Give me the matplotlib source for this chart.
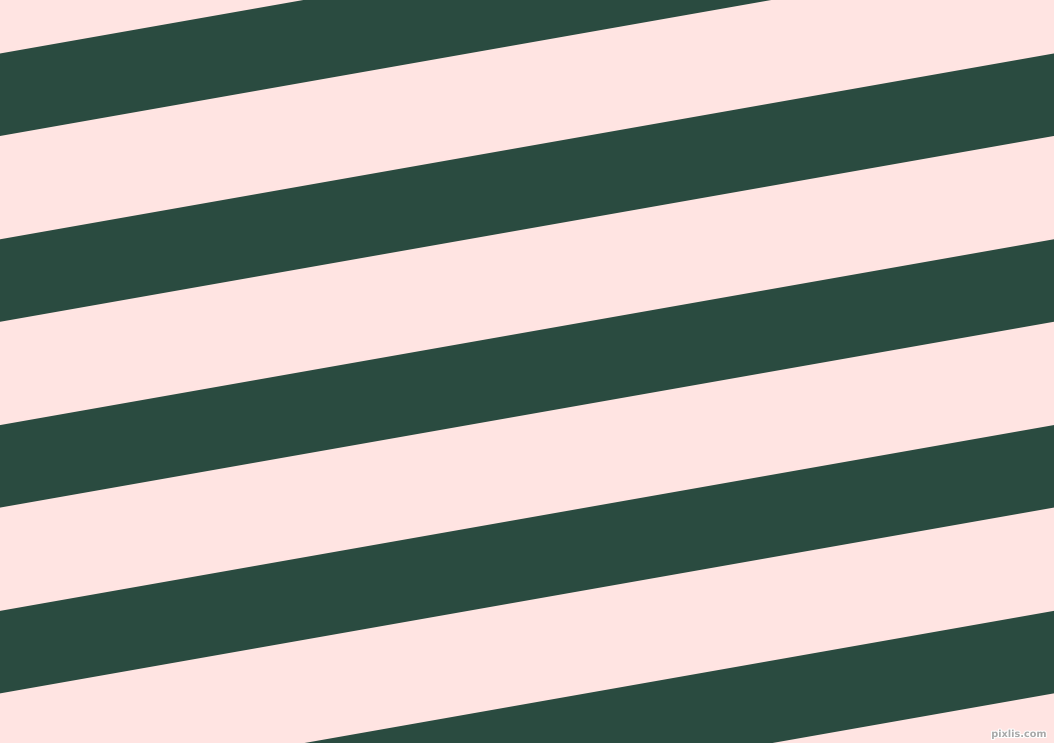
import numpy as np
import matplotlib
matplotlib.use("Agg")
import matplotlib.pyplot as plt
import matplotlib.patheffects as pe

WIDTH = 1054
HEIGHT = 743

# stripe geometry (pixels at the left edge)
stripe_tops = [-132.3, 53.5, 239.3, 425.1, 610.9, 796.7]
stripe_height = 82.5
angle_deg = 10.0

BG_COLOR = "#FFE4E2"
STRIPE_COLOR = "#2A4B40"

fig = plt.figure(figsize=(WIDTH / 100, HEIGHT / 100), dpi=100)
fig.patch.set_facecolor(BG_COLOR)
ax = fig.add_axes([0, 0, 1, 1])
ax.set_facecolor(BG_COLOR)

x = np.array([0.0, WIDTH])
slope = np.tan(np.radians(angle_deg))
for top in stripe_tops:
    y1 = top - slope * x
    y2 = top + stripe_height - slope * x
    ax.fill_between(x, y1, y2, color=STRIPE_COLOR, linewidth=0)

ax.text(1047, 734, "pixlis.com", ha="right", va="center", fontsize=7,
        color="#A8A8A8", fontweight="bold",
        path_effects=[pe.withStroke(linewidth=1.5, foreground="white")])

ax.set_xlim(0, WIDTH)
ax.set_ylim(HEIGHT, 0)
ax.axis("off")

fig.savefig("out.png", dpi=100, facecolor=BG_COLOR)
